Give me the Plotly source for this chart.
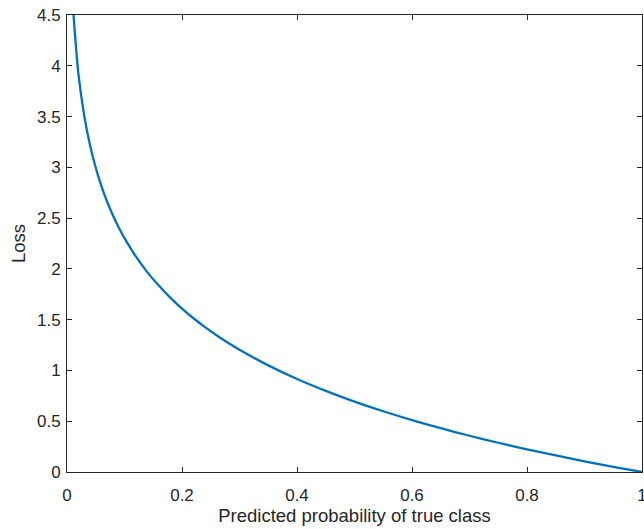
import plotly.graph_objects as go

# Predicted probability of the true class (x) and the loss (y)
prob = [0.01, 0.02, 0.03, 0.04, 0.05, 0.06, 0.07, 0.08, 0.09, 0.10,
        0.12, 0.14, 0.16, 0.18, 0.20, 0.22, 0.24, 0.26, 0.28, 0.30,
        0.35, 0.40, 0.45, 0.50, 0.55, 0.60, 0.65, 0.70, 0.75, 0.80,
        0.85, 0.90, 0.95, 1.00]
loss = [4.605, 3.912, 3.507, 3.219, 2.996, 2.813, 2.659, 2.526, 2.408, 2.303,
        2.120, 1.966, 1.833, 1.715, 1.609, 1.514, 1.427, 1.347, 1.273, 1.204,
        1.050, 0.916, 0.799, 0.693, 0.598, 0.511, 0.431, 0.357, 0.288, 0.223,
        0.163, 0.105, 0.051, 0.0]

x_ticks = [0, 0.2, 0.4, 0.6, 0.8, 1]
x_tick_labels = ["0", "0.2", "0.4", "0.6", "0.8", "1"]
y_ticks = [0, 0.5, 1, 1.5, 2, 2.5, 3, 3.5, 4, 4.5]
y_tick_labels = ["0", "0.5", "1", "1.5", "2", "2.5", "3", "3.5", "4", "4.5"]

axis_color = "#262626"
font_family = "Liberation Sans, Arial, Helvetica, sans-serif"

fig = go.Figure()
fig.add_trace(go.Scatter(
    x=prob, y=loss, mode="lines",
    line=dict(color="#0072BD", width=2.3, shape="spline", smoothing=0.8),
    showlegend=False, hoverinfo="skip",
))

common = dict(
    showgrid=False, zeroline=False, showline=True, linecolor=axis_color,
    linewidth=1, mirror="ticks", ticks="inside", ticklen=5, tickwidth=1,
    tickcolor=axis_color, automargin=False, ticklabeloverflow="allow",
    tickfont=dict(family=font_family, size=17, color=axis_color),
)

fig.update_layout(
    width=644, height=529,
    margin=dict(l=67, r=2, t=15, b=57),
    paper_bgcolor="white", plot_bgcolor="white",
    xaxis=dict(range=[0, 1], tickvals=x_ticks, ticktext=x_tick_labels,
               ticklabelstandoff=8,
               title=dict(text="Predicted probability of true class",
                          font=dict(family=font_family, size=18.5, color=axis_color),
                          standoff=2),
               **common),
    yaxis=dict(range=[0, 4.5], tickvals=y_ticks, ticktext=y_tick_labels,
               ticklabelstandoff=2,
               title=dict(text="Loss",
                          font=dict(family=font_family, size=18.5, color=axis_color),
                          standoff=6),
               **common),
)

fig.write_html(
    "out.html",
    config={"displayModeBar": False, "staticPlot": True},
    post_script="document.body.style.margin='0';document.body.style.overflow='hidden';",
)
